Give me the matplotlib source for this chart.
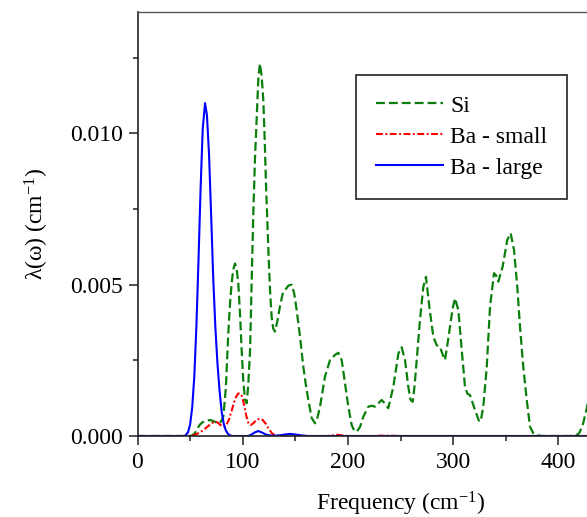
import matplotlib
matplotlib.use("Agg")
import matplotlib.pyplot as plt
from matplotlib.ticker import MultipleLocator, FixedLocator, FormatStrFormatter

plt.rcParams['font.family'] = ['Liberation Serif', 'DejaVu Serif']
plt.rcParams['mathtext.fontset'] = 'custom'
plt.rcParams['mathtext.rm'] = 'Liberation Serif'
plt.rcParams['mathtext.it'] = 'Liberation Serif:italic'
plt.rcParams['mathtext.default'] = 'regular'

# ---- data ----
si_x = [0, 50, 52, 54.7, 57, 59.4, 62, 65, 69, 73, 76.8, 79.5, 81.6, 84, 86.3, 88, 89.5, 91, 92.7,
        94.3, 95.8, 97.5, 99, 100.6, 102.2, 103.8, 105.3, 107, 108.5, 110, 111.7, 113.3, 115,
        116.4, 118, 119.6, 121, 122.1, 124.4, 126, 127.5, 129, 130.7, 133, 135.5, 138, 140.2,
        143.5, 146.6, 149, 151.3, 154.5, 157.6, 160, 162.4, 165.5, 168.7, 171, 173.5, 178.2,
        183, 187.7, 190.9, 194.1, 197.2, 200.4, 203.6, 206, 208.4, 211.5, 214.7, 219.4, 222.5,
        225.8, 229, 232.1, 235, 238.4, 243.2, 248, 251.1, 254.3, 257.4, 259.5, 261.6, 263.5,
        265.4, 268.5, 271.7, 274.2, 277.4, 281.2, 284.4, 287.5, 290, 292.3, 294.5, 297, 299.5,
        301.8, 305, 308.2, 311.3, 313.5, 316.1, 318.5, 320.8, 324.9, 326.8, 328.7, 332, 335.1,
        338.9, 341, 343, 347.1, 351.5, 354.7, 357.9, 361, 363.6, 366.7, 370, 373.1, 376.2, 380,
        385, 415, 417.5, 420, 423.5, 426.7, 432, 440]
si_y = [0, 0, 0.00002, 0.0001, 0.00025, 0.00038, 0.00046, 0.0005, 0.00053, 0.00048, 0.00042,
        0.00048, 0.00064, 0.0016, 0.0034, 0.0044, 0.00505, 0.0055, 0.0057, 0.0055, 0.00505,
        0.004, 0.00284, 0.0018, 0.0012, 0.00108, 0.0017, 0.00284, 0.0050, 0.00725, 0.0092,
        0.01055, 0.0119, 0.0123, 0.0119, 0.0111, 0.0097, 0.00835, 0.00615, 0.0048, 0.00394,
        0.00355, 0.00345, 0.0038, 0.0043, 0.0047, 0.00482, 0.00497, 0.0050, 0.0047, 0.00416,
        0.00328, 0.00229, 0.0017, 0.00119, 0.0006, 0.00042, 0.0006, 0.00097, 0.00196, 0.00251,
        0.00268, 0.00275, 0.00251, 0.00174, 0.00097, 0.00036, 0.00018, 0.00014, 0.0003,
        0.00064, 0.00097, 0.001, 0.00097, 0.00108, 0.00119, 0.00108, 0.00092, 0.00163,
        0.00273, 0.00293, 0.00251, 0.00163, 0.0012, 0.00113, 0.0017, 0.00251, 0.00383,
        0.00493, 0.00526, 0.00427, 0.00328, 0.0030, 0.00295, 0.0027, 0.00251, 0.003, 0.00361,
        0.0042, 0.00455, 0.00416, 0.00284, 0.00163, 0.0014, 0.00135, 0.0011, 0.00086, 0.00047,
        0.0006, 0.00097, 0.00229, 0.00427, 0.00538, 0.0053, 0.0051, 0.0056, 0.00648, 0.0067,
        0.00615, 0.00493, 0.00361, 0.00229, 0.00119, 0.00031, 0.00009, 0.00002, 0, 0, 0.00003,
        0.0001, 0.0004, 0.00086, 0.0018, 0.0032]

ba_small_x = [0, 48, 50, 53, 56, 60, 64, 68, 71, 73.7, 76, 79, 81.6, 84, 87, 90, 93, 95.5, 97.4,
              99.5, 101.5, 103.5, 105.5, 107.5, 110, 113, 116.4, 119, 122, 125, 128, 131, 134,
              180, 185, 190, 195, 200, 225, 230, 240, 250, 500]
ba_small_y = [0, 0, 0.00001, 0.00003, 0.00006, 0.00013, 0.00024, 0.00035, 0.00043, 0.00047,
              0.00045, 0.00036, 0.0003, 0.00033, 0.00055, 0.0009, 0.00125, 0.0014, 0.00141,
              0.0013, 0.001, 0.00065, 0.00042, 0.00036, 0.00042, 0.00053, 0.00058, 0.00053,
              0.0004, 0.00022, 0.00008, 0.00002, 0, 0, 0.00002, 0.00004, 0.00002, 0, 0,
              0.00001, 0.00001, 0, 0]

ba_large_x = [0, 45, 48, 50, 52, 54, 56, 58, 60, 62, 64.2, 66, 68, 70, 72, 74, 76, 78, 80, 82,
              84, 86, 88, 90, 105, 108, 111, 114.8, 118, 122, 127.5, 135, 140, 145, 150, 156,
              162, 500]
ba_large_y = [0, 0, 0.00012, 0.00038, 0.00094, 0.00197, 0.00363, 0.00583, 0.0082, 0.01015,
              0.0110, 0.0106, 0.0093, 0.0073, 0.0052, 0.0036, 0.0024, 0.0015, 0.0008, 0.0004,
              0.00018, 0.00007, 0.00002, 0, 0, 0.00004, 0.00011, 0.000165, 0.00012, 0.00005,
              0.00001, 0.00002, 0.00005, 0.00007, 0.00005, 0.00002, 0, 0]

labels = ["Si", "Ba - small", "Ba - large"]
x_ticks = [0, 100, 200, 300, 400]

# ---- figure ----
W, H = 587, 517
fig = plt.figure(figsize=(W / 100, H / 100), dpi=100)
left = 137.5 / W
bottom = (H - 436) / H
ax = fig.add_axes([left, bottom, 526 / W, (436 - 12.3) / H])

ax.plot(si_x, si_y, color='#0b7f0b', lw=1.6, dashes=(4.0, 1.8), label=labels[0])
ax.plot(ba_small_x, ba_small_y, color='#ff0000', lw=1.5, dashes=(3.3, 1.2, 0.9, 1.2), label=labels[1])
ax.plot(ba_large_x, ba_large_y, color='#0000ff', lw=1.5, label=labels[2])

ax.set_xlim(0, 500)
ax.set_ylim(0, 0.014)
ax.xaxis.set_major_locator(FixedLocator(x_ticks))
ax.xaxis.set_minor_locator(FixedLocator([50, 150, 250, 350]))
ax.yaxis.set_major_locator(MultipleLocator(0.005))
ax.yaxis.set_minor_locator(MultipleLocator(0.0025))
ax.yaxis.set_major_formatter(FormatStrFormatter('%.3f'))

ax.tick_params(which='both', direction='out', top=False, right=False, labelsize=17,
               color='#222222', width=1.1)
ax.tick_params(which='major', length=6.5, pad=4)
ax.tick_params(which='minor', length=3.6)
ax.tick_params(axis='x', which='major', pad=5)

for side in ['left', 'bottom']:
    ax.spines[side].set_linewidth(1.2)
    ax.spines[side].set_color('#222222')
ax.spines['top'].set_linewidth(1.0)
ax.spines['top'].set_color('#555555')

ax.set_xlabel('Frequency (cm$^{-1}$)', fontsize=17, labelpad=12)
ax.set_ylabel('λ(ω) (cm$^{-1}$)', fontsize=17, labelpad=14)

leg = ax.legend(loc='upper left', bbox_to_anchor=(356 / W, 1 - 75 / H),
                bbox_transform=fig.transFigure, borderaxespad=0, fontsize=17,
                handlelength=2.84, handletextpad=0.3, labelspacing=0.4,
                borderpad=0.85, fancybox=False, framealpha=1, edgecolor='#222222')
leg.get_frame().set_linewidth(1.2)

fig.savefig('out.png', dpi=100)
